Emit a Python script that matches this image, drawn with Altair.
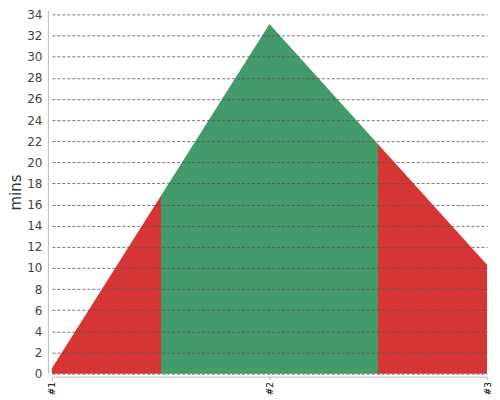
import altair as alt
import pandas as pd

categories = ["#1", "#2", "#3"]
values = [0.5, 33.1, 10.3]
y_ticks = list(range(0, 35, 2))

df = pd.DataFrame({"cat": categories, "mins": values})

red = "#d63535"
green = "#439b6b"

fill = alt.Gradient(
    gradient="linear",
    x1=0, x2=1, y1=0, y2=0,
    stops=[
        alt.GradientStop(color=red, offset=0),
        alt.GradientStop(color=red, offset=0.25),
        alt.GradientStop(color=green, offset=0.25),
        alt.GradientStop(color=green, offset=0.75),
        alt.GradientStop(color=red, offset=0.75),
        alt.GradientStop(color=red, offset=1),
    ],
)

chart = (
    alt.Chart(df)
    .mark_area(color=fill, opacity=1)
    .encode(
        x=alt.X(
            "cat:N",
            sort=categories,
            scale=alt.Scale(type="point", padding=0),
            axis=alt.Axis(
                title=None,
                labelAngle=-90,
                labelFont="DejaVu Sans",
                labelFontSize=9,
                labelColor="#000",
                labelAlign="right",
                labelBaseline="middle",
                labelPadding=2,
                tickSize=3,
                tickColor="#bbb",
                domainColor="#bbb",
                offset=3,
                grid=False,
            ),
        ),
        y=alt.Y(
            "mins:Q",
            scale=alt.Scale(domain=[0, 34.378], nice=False),
            axis=alt.Axis(
                title="mins",
                titleFont="DejaVu Sans",
                titleFontSize=15,
                titleFontWeight="normal",
                titleColor="#333",
                titlePadding=3,
                values=y_ticks,
                labelFont="DejaVu Sans",
                labelFontSize=12,
                labelColor="#444",
                labelPadding=6,
                ticks=False,
                domainColor="#bbb",
                offset=4,
                grid=True,
                gridColor="#555",
                gridOpacity=0.8,
                gridDash=[3, 2],
                gridWidth=1,
                zindex=1,
            ),
        ),
    )
    .properties(width=436, height=364, padding={"left": 0, "top": 0, "right": 0, "bottom": 0})
    .configure_view(stroke=None)
)

chart.save("out.html", embed_options={"renderer": "svg", "actions": False})
